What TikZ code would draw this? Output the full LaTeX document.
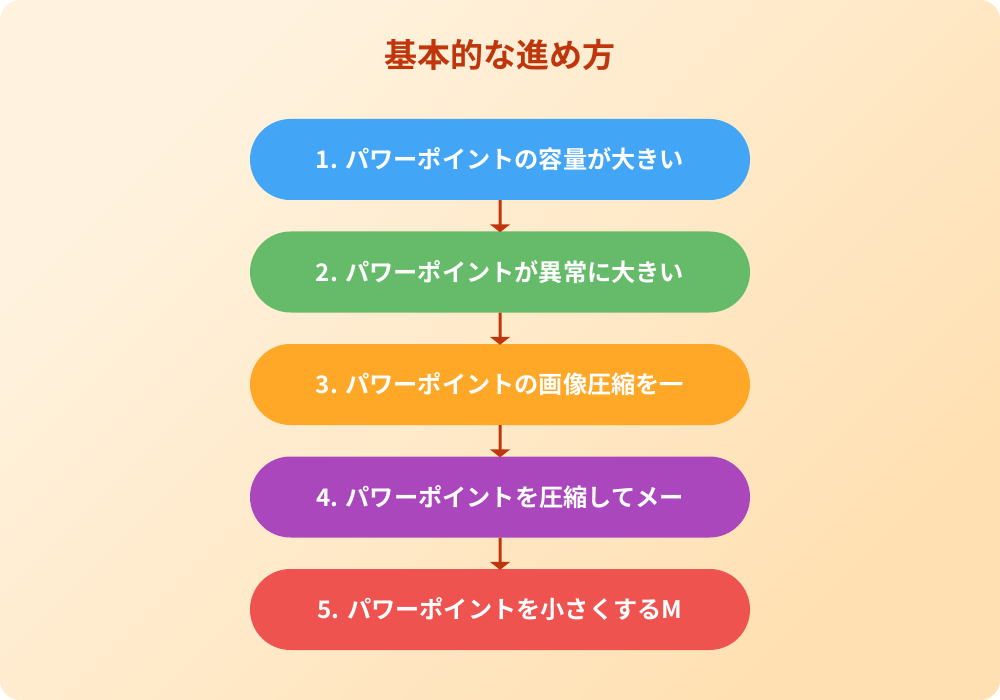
\documentclass[tikz,border=0pt]{standalone}
\usepackage{fontspec}
\setmainfont{Noto Sans CJK JP}[BoldFont={* Bold}]
\usetikzlibrary{arrows.meta,shapes.misc}
\definecolor{bgA}{HTML}{FFF3E0}
\definecolor{bgB}{HTML}{FFE0B2}
\definecolor{ttl}{HTML}{BF360C}
\definecolor{cA}{HTML}{42A5F5}
\definecolor{cB}{HTML}{66BB6A}
\definecolor{cC}{HTML}{FFA726}
\definecolor{cD}{HTML}{AB47BC}
\definecolor{cE}{HTML}{EF5350}
\tikzset{
  stepbox/.style={rounded rectangle, minimum width=500pt, minimum height=81pt, inner sep=0pt, text=white, font=\bfseries\fontsize{24.2}{27}\selectfont},
  conn/.style={draw=ttl, line width=3pt, -{Triangle[width=20pt,length=8pt]}, shorten >=-1pt}
}
\begin{document}
\begin{tikzpicture}
\useasboundingbox (0,0) rectangle (1000pt,-700pt);
\shade[rounded corners=20pt, left color=bgA, right color=bgB, shading angle=45] (0,0) rectangle (1000pt,-700pt);
\node[text=ttl, font=\bfseries\fontsize{33}{36}\selectfont] (title) at (500pt,-55pt) {基本的な進め方};
\node[stepbox, fill=cA] (s1) at (500pt,-159.5pt) {1. パワーポイントの容量が大きい};
\node[stepbox, fill=cB] (s2) at (500pt,-272pt) {2. パワーポイントが異常に大きい};
\node[stepbox, fill=cC] (s3) at (500pt,-384.5pt) {3. パワーポイントの画像圧縮を一};
\node[stepbox, fill=cD] (s4) at (500pt,-497pt) {4. パワーポイントを圧縮してメー};
\node[stepbox, fill=cE] (s5) at (500pt,-609.5pt) {5. パワーポイントを小さくするM};
\draw[conn] (s1) -- (s2);
\draw[conn] (s2) -- (s3);
\draw[conn] (s3) -- (s4);
\draw[conn] (s4) -- (s5);
\end{tikzpicture}
\end{document}
